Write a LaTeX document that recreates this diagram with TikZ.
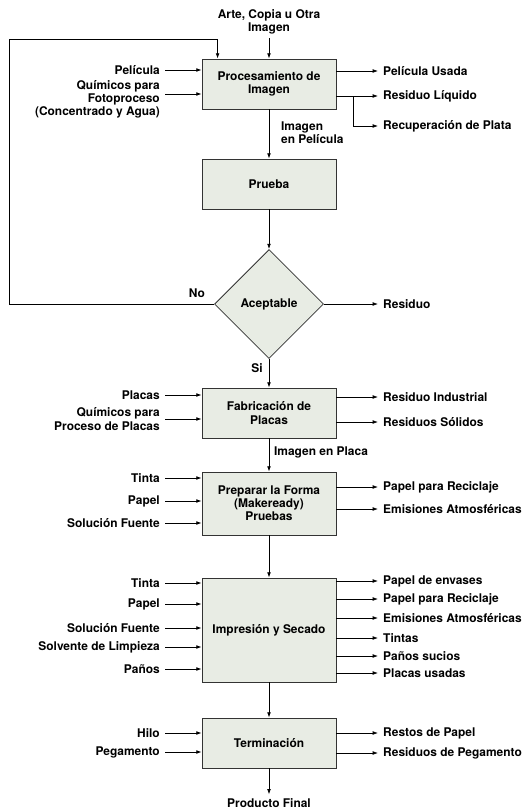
\documentclass[tikz,border=0pt]{standalone}
\usepackage{fontspec}
\setmainfont{TeX Gyre Heros}
\usetikzlibrary{shapes.geometric,arrows.meta,calc}
\definecolor{boxfill}{RGB}{232,236,228}
\tikzstyle{proc}=[draw=black!80, line width=0.7pt, fill=boxfill, minimum width=4.02cm, align=center]
\tikzstyle{cond}=[diamond, draw=black!80, line width=0.7pt, fill=boxfill, minimum size=3.27cm, inner sep=0pt]
\tikzstyle{inlbl}=[anchor=east, align=right, inner xsep=0.15cm, inner ysep=1pt]
\tikzstyle{outlbl}=[anchor=west, align=left, inner xsep=0.15cm, inner ysep=1pt]
\tikzstyle{arr}=[-{Latex[length=4.5pt,width=3.2pt]}, line width=0.6pt]

\begin{document}
\begin{tikzpicture}[x=0.03cm, y=-0.03cm, every node/.style={font=\bfseries\fontsize{10.2}{11.2}\selectfont}]
        \useasboundingbox (0,0) rectangle (524,810);
        % process boxes
        \node[proc, minimum height=1.5cm] (proc) at (269,84) {Procesamiento de\\Imagen};
        \node[proc, minimum height=1.5cm] (prueba) at (269,184) {Prueba};
        \node[cond] (acep) at (269,304) {Aceptable};
        \node[proc, minimum height=1.5cm] (fab) at (269,413) {Fabricación de\\Placas};
        \node[proc, minimum height=1.89cm] (prep) at (269,503.5) {Preparar la Forma\\(Makeready)\\Pruebas};
        \node[proc, minimum height=3.12cm] (imp) at (269,630) {Impresión y Secado};
        \node[proc, minimum height=1.5cm] (term) at (269,743) {Terminación};

        % main flow
        \node[align=center] (arte) at (269,22) {Arte, Copia u Otra\\Imagen};
        \draw[arr] (arte) -- (proc);
        \draw[arr] (proc) -- (prueba);
        \node[anchor=west, align=left] (imgpel) at (277,133) {Imagen\\en Película};
        \draw[arr] (prueba) -- (acep);
        \draw[arr] (acep) -- (fab);
        \node (si) at (257,368) {Si};
        \draw[arr] (fab) -- (prep);
        \node[anchor=west] (imgpl) at (270,452) {Imagen en Placa};
        \draw[arr] (prep) -- (imp);
        \draw[arr] (imp) -- (term);
        \node (prod) at (269,803) {Producto Final};
        \draw[arr] (term) -- (prod);

        % rejected image goes back
        \coordinate (fb) at (9,39);
        \node (no) at (197,293) {No};
        \draw[arr] (acep.west) -| (fb) -| ([xshift=0.48cm]proc.north west);
        \node[outlbl] (resid) at (378,304) {Residuo};
        \draw[arr] (acep.east) -- (resid.west);

        % Procesamiento de Imagen
        \node[inlbl] (pel) at (165,70) {Película};
        \node[inlbl] (quim) at (165,99.5) {Químicos para\\Fotoproceso\\(Concentrado y Agua)};
        \draw[arr] (pel.east) -- (pel.east -| proc.west);
        \draw[arr] ([yshift=0.165cm]quim.east) -- ([yshift=0.165cm]quim.east -| proc.west);
        \node[outlbl] (usada) at (378,71) {Película Usada};
        \node[outlbl] (liq) at (378,96) {Residuo Líquido};
        \node[outlbl] (plata) at (378,126) {Recuperación de Plata};
        \draw[arr] (proc.east |- usada.west) -- (usada.west);
        \draw[arr] (proc.east |- liq.west) -- (liq.west);
        \draw[arr] ($(proc.east |- liq.west)+(17,0)$) |- (plata.west);

        % Fabricacion de Placas
        \node[inlbl] (placas) at (165,395) {Placas};
        \node[inlbl] (quimpl) at (165,419) {Químicos para\\Proceso de Placas};
        \node[outlbl] (rind) at (378,397) {Residuo Industrial};
        \node[outlbl] (rsol) at (378,422) {Residuos Sólidos};

        % Preparar la Forma
        \node[inlbl] (tintaA) at (165,478) {Tinta};
        \node[inlbl] (papelA) at (165,501) {Papel};
        \node[inlbl] (solA) at (165,523) {Solución Fuente};
        \node[outlbl] (recicA) at (378,487) {Papel para Reciclaje};
        \node[outlbl] (emisA) at (378,509) {Emisiones Atmosféricas};

        % Impresion y Secado
        \node[inlbl] (tintaB) at (165,583) {Tinta};
        \node[inlbl] (papelB) at (165,604) {Papel};
        \node[inlbl] (solB) at (165,628) {Solución Fuente};
        \node[inlbl] (solv) at (165,647) {Solvente de Limpieza};
        \node[inlbl] (panos) at (165,669) {Paños};
        \node[outlbl] (env) at (378,581) {Papel de envases};
        \node[outlbl] (recicB) at (378,599) {Papel para Reciclaje};
        \node[outlbl] (emisB) at (378,618) {Emisiones Atmosféricas};
        \node[outlbl] (tintas) at (378,638) {Tintas};
        \node[outlbl] (psuc) at (378,656) {Paños sucios};
        \node[outlbl] (pusad) at (378,673) {Placas usadas};

        % Terminacion
        \node[inlbl] (hilo) at (165,733) {Hilo};
        \node[inlbl] (peg) at (165,752) {Pegamento};
        \node[outlbl] (restos) at (378,733) {Restos de Papel};
        \node[outlbl] (rpeg) at (378,753) {Residuos de Pegamento};

        \foreach \i/\b in {placas/fab, quimpl/fab, tintaA/prep, papelA/prep, solA/prep,
            tintaB/imp, papelB/imp, solB/imp, solv/imp, panos/imp, hilo/term, peg/term}
            \draw[arr] (\i.east) -- (\i.east -| \b.west);
        \foreach \o/\b in {rind/fab, rsol/fab, recicA/prep, emisA/prep, env/imp, recicB/imp,
            emisB/imp, tintas/imp, psuc/imp, pusad/imp, restos/term, rpeg/term}
            \draw[arr] (\b.east |- \o.west) -- (\o.west);
    \end{tikzpicture}
\end{document}
